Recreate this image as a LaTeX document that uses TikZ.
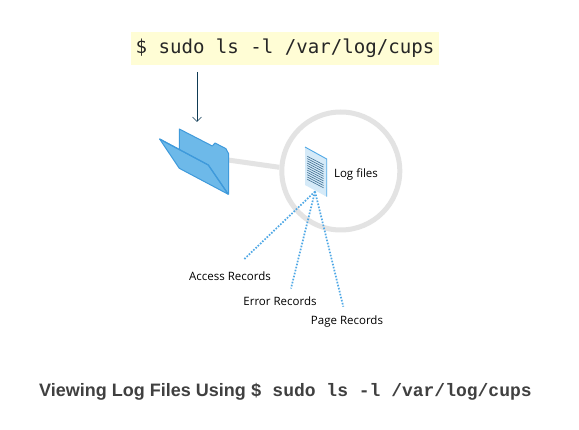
\documentclass[tikz,border=0pt]{standalone}
\usepackage{fontspec}
\setmainfont{Open Sans}
\newfontfamily\cmdfont{DejaVu Sans Mono}
\newfontfamily\capfont{Liberation Sans}
\newfontfamily\capmono{Liberation Mono}
\usetikzlibrary{arrows.meta}
\definecolor{folderblue}{HTML}{6DB9E9}
\definecolor{folderedge}{HTML}{3F9ADB}
\definecolor{ringgray}{HTML}{E3E3E3}
\definecolor{notefill}{HTML}{FFFDD5}
\definecolor{arrowdark}{HTML}{0F3B55}
\definecolor{docfill}{HTML}{D5EAF8}
\definecolor{docline}{HTML}{3F6F92}
\definecolor{dotblue}{HTML}{4FA8E6}
\definecolor{captext}{HTML}{404040}
\tikzset{
  x=1pt,y=-1pt,
  label text/.style={font=\fontsize{11.5}{13}\selectfont,text=black,inner sep=0pt},
  dotlink/.style={draw=dotblue,line width=1.7pt,dash pattern=on 1.6pt off 1.5pt},
  ring/.style={draw=ringgray,line width=5pt},
  folderpart/.style={fill=folderblue,draw=folderedge,line width=1pt,line join=round},
  docrule/.style={draw=docline,line width=0.6pt}
}
\begin{document}
\begin{tikzpicture}
\useasboundingbox (0,0) rectangle (579,430);
\fill[white] (0,0) rectangle (579,430);
% command
\node[fill=notefill,minimum width=308pt,minimum height=33pt,inner sep=0pt,
      font=\cmdfont\fontsize{19.1}{24}\selectfont,text=black!85] (cmd) at (285,48.5) {\$ sudo ls -l /var/log/cups};
% arrow
\coordinate (arrowstart) at (197,72);
\coordinate (arrowend) at (197,122);
\draw[arrowdark,line width=0.8pt,-{Straight Barb[length=4.5pt,width=9pt,line width=0.7pt]}] (arrowstart) -- (arrowend);
% ring and link
\coordinate (folderright) at (228,160);
\node[circle,ring,minimum size=118pt,inner sep=0pt] (lens) at (340.8,171) {};
\draw[ring] (folderright) -- (lens.west |- 0,167.3);
% folder
\path[folderpart,draw=none] (179.3,129) -- (212.3,146) -- (215,143) -- (226,148.7) -- (228.7,154) -- (228.7,194.3) -- (179.3,168.3) -- cycle;
\draw[folderedge,line width=1pt,line join=round] (179.3,149.3) -- (179.3,129) -- (212.3,146) -- (215,143) -- (226,148.7) -- (228.7,154) -- (228.7,194.3);
\path[folderpart] (159.6,139) -- (208.3,165) -- (228.3,194.3) -- (179.3,168.3) -- cycle;
\draw[folderedge,line width=1.2pt] (159.6,139) -- (208.3,165) -- (228.3,194.3);
% document
\fill[docfill] (305,147) -- (326.7,159) -- (326.7,196.7) -- (305,185) -- cycle;
\draw[dotblue,line width=0.9pt] (305,147) -- (326.7,159) -- (326.7,196.7);
\foreach \i in {0,...,10}{
  \draw[docrule] (307.3,{156.3+\i*2.3}) -- (323.5,{164.8+\i*2.3});
}
% labels
\node[label text] (logfiles) at (356,174) {Log files};
\node[label text] (access) at (230,276) {Access Records};
\node[label text] (error) at (280,301) {Error Records};
\node[label text] (page) at (347,321.5) {Page Records};
% dotted links
\coordinate (docfoot) at (315,191.5);
\coordinate (accessend) at (243.3,260);
\coordinate (errorend) at (291,288.5);
\coordinate (pageend) at (343.3,306.7);
\draw[dotlink] (docfoot) -- (accessend);
\draw[dotlink] (docfoot) -- (errorend);
\draw[dotlink] (docfoot) -- (pageend);
% caption
\node[inner sep=0pt,text=captext,anchor=base west] (caption) at (39,396.5)
 {\capfont\bfseries\fontsize{18}{20}\selectfont Viewing Log Files Using {\capmono\fontsize{18}{20}\selectfont \$ sudo ls -l /var/log/cups}};
\end{tikzpicture}
\end{document}
